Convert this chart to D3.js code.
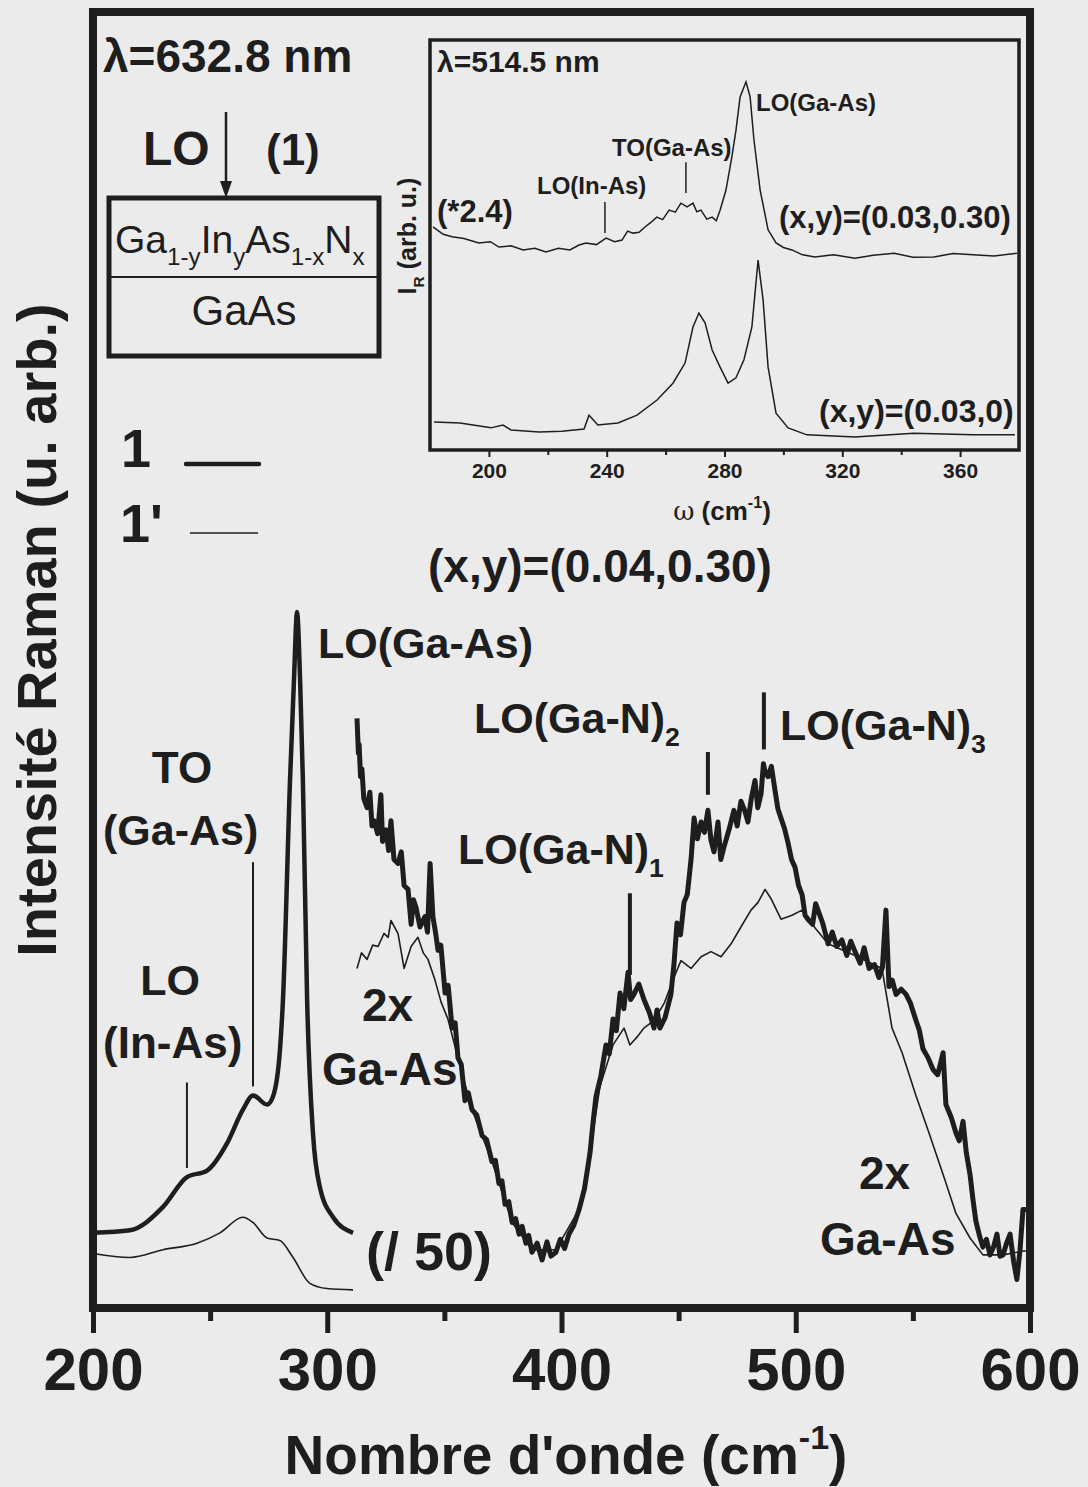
<!DOCTYPE html>
<html>
<head>
<meta charset="utf-8">
<script src="https://cdn.jsdelivr.net/npm/d3@7"></script>
<style>
  body { margin: 0; background: #ebebeb; }
  svg text { font-family: "Liberation Sans", Arial, sans-serif; font-weight: bold; fill: #1e1e1e; }
  svg text.plain { font-weight: normal; }
</style>
</head>
<body>
<div id="canvas"></div>
<script>
"use strict"

/* Main spectra, lambda = 632.8 nm : [wavenumber (cm-1), intensity (arb.)] */
// sample 1, divided by 50 (LO Ga-As region)
let thickLow = [
  [200, 5.8], [215.8, 6.0], [229.9, 7.8], [240.1, 10.1], [248.7, 10.6], [257.2, 12.7],
  [264.0, 15.3], [268.3, 16.4], [274.3, 15.7], [276.8, 16.3], [279.8, 19.9], [281.1, 23.8],
  [284.1, 40.7], [285.8, 48.5], [287.1, 53.7], [288.4, 48.5], [289.6, 40.7], [291.4, 23.8],
  [293.9, 13.5], [296.9, 9.3], [302.5, 7.0], [311.0, 5.8]
];
// sample 1', same range
let thinLow = [
  [200, 4.2], [215.8, 3.9], [229.9, 4.5], [244.4, 5.0], [254.2, 5.8], [264.0, 7.0],
  [268.3, 6.6], [274.3, 5.4], [279.8, 5.2], [285.4, 3.9], [292.6, 1.9], [299.9, 1.5], [311.0, 1.4]
];
// sample 1, 2x Ga-As region
let thickHigh = [
  [312.7, 45.5], [313.3, 42.8], [313.6, 43.5], [314.2, 41.0], [314.8, 41.6], [315.6, 39.3],
  [317.0, 38.6], [318.2, 39.8], [319.1, 37.2], [320.0, 37.6], [321.5, 36.6], [322.9, 39.6],
  [323.6, 36.0], [325.1, 36.9], [326.2, 35.3], [327.2, 37.6], [328.5, 34.6], [330.2, 34.3],
  [331.6, 35.2], [332.8, 32.6], [334.5, 32.3], [335.8, 29.6], [336.8, 31.5], [337.9, 30.9],
  [339.6, 29.4], [341.7, 30.2], [342.8, 29.0], [343.9, 34.3], [345.1, 30.2], [346.2, 29.0],
  [347.3, 27.6], [348.5, 28.0], [350.3, 24.3], [351.6, 24.9], [353.3, 21.6], [354.6, 22.0],
  [355.8, 19.3], [357.2, 18.8], [358.8, 16.0], [360.2, 16.6], [361.8, 15.3], [363.8, 14.9],
  [366.1, 13.3], [368.0, 13.0], [370.3, 11.3], [371.8, 11.4], [373.3, 9.6], [374.6, 9.8],
  [375.9, 8.0], [377.5, 8.2], [378.9, 6.6], [380.4, 6.9], [381.9, 5.7], [383.2, 6.3],
  [384.8, 5.0], [386.0, 5.6], [387.4, 4.3], [389.6, 5.0], [391.7, 3.7], [393.8, 5.1],
  [395.5, 4.0], [397.6, 4.3], [399.5, 5.3], [401.3, 4.6], [403.2, 5.7], [405.3, 6.4],
  [407.5, 7.6], [409.8, 9.2], [412.2, 12.0], [413.4, 14.2], [414.7, 16.3], [416.8, 17.9],
  [419.0, 20.3], [420.4, 19.6], [422.0, 22.3], [423.4, 21.4], [425.0, 24.3], [426.6, 23.1],
  [428.4, 25.9], [429.5, 23.8], [430.9, 24.2], [433.0, 25.0], [435.2, 23.8], [437.5, 22.8],
  [439.5, 21.6], [440.8, 23.0], [442.0, 21.6], [444.2, 22.4], [446.7, 24.2], [448.0, 26.5],
  [449.3, 29.7], [450.8, 28.8], [452.3, 31.3], [453.7, 31.9], [455.3, 34.6], [456.6, 37.8],
  [458.0, 36.2], [459.6, 37.5], [461.0, 36.7], [462.5, 38.4], [463.8, 36.1], [465.1, 35.2],
  [466.8, 37.5], [468.0, 34.6], [469.4, 35.6], [471.5, 36.9], [473.6, 38.4], [475.0, 37.2],
  [476.6, 39.1], [478.2, 38.4], [479.6, 37.5], [481.0, 39.3], [482.6, 40.7], [483.8, 38.6],
  [485.2, 39.7], [486.2, 42.0], [486.9, 41.4], [488.2, 41.0], [489.6, 41.8], [491.1, 40.0],
  [492.4, 38.5], [493.7, 37.8], [495.2, 37.0], [496.7, 35.9], [498.2, 34.6], [499.7, 34.0],
  [501.2, 32.6], [502.7, 31.9], [504.0, 30.3], [505.2, 30.0], [507.2, 29.6], [508.5, 31.2],
  [509.5, 30.7], [511.5, 29.7], [513.8, 28.1], [515.6, 29.0], [517.5, 27.9], [519.7, 28.4],
  [521.8, 27.2], [523.5, 28.3], [525.3, 27.5], [527.5, 26.6], [529.2, 27.8], [531.3, 26.2],
  [533.6, 26.5], [535.5, 25.5], [537.0, 26.3], [538.5, 30.7], [539.8, 24.8], [541.2, 25.3],
  [542.8, 24.2], [545.0, 24.6], [547.1, 24.2], [549.0, 23.5], [551.3, 22.2], [552.8, 21.4],
  [554.3, 20.0], [556.5, 19.3], [558.6, 18.4], [560.6, 18.0], [562.9, 19.7], [564.1, 15.7],
  [566.4, 14.7], [568.4, 13.5], [569.8, 12.9], [571.4, 14.4], [572.8, 12.0], [574.4, 10.3],
  [575.7, 8.3], [576.9, 6.7], [578.4, 5.6], [579.9, 4.7], [581.4, 5.3], [582.9, 4.1],
  [584.4, 4.7], [585.9, 5.7], [587.2, 4.0], [588.5, 4.1], [590.0, 5.0], [591.5, 5.7],
  [593.0, 3.6], [594.4, 2.2], [595.7, 4.4], [597.0, 7.6], [600, 7.6]
];
// sample 1', 2x Ga-As region
let thinHigh = [
  [312.7, 26.2], [314.6, 27.4], [317.0, 26.9], [319.4, 28.0], [321.7, 27.9], [324.2, 28.9],
  [326.0, 28.6], [327.2, 29.9], [330.2, 28.9], [332.8, 26.2], [335.8, 27.9], [338.7, 28.6],
  [341.0, 27.4], [343.0, 26.9], [346.0, 25.3], [348.6, 23.6], [351.5, 22.3], [355.8, 19.3],
  [361.8, 15.3], [370.3, 11.3], [378.9, 6.6], [387.4, 4.5], [397.6, 4.5], [407.5, 7.6],
  [412.2, 12.0], [416.4, 17.1], [422.0, 20.3], [426.7, 21.6], [429.2, 20.3], [432.2, 20.9],
  [435.2, 21.6], [439.5, 22.2], [443.8, 23.5], [448.0, 25.5], [451.0, 26.8], [455.3, 26.2],
  [459.6, 27.1], [463.8, 27.5], [468.1, 27.1], [472.4, 28.1], [476.6, 29.4], [480.9, 30.7],
  [483.9, 31.3], [486.9, 32.3], [489.4, 31.6], [493.7, 30.0], [498.4, 30.3], [502.7, 30.7],
  [505.2, 30.0], [513.8, 28.1], [525.3, 27.2], [536.8, 26.2], [541.1, 21.6], [545.4, 19.7],
  [551.3, 16.4], [556.9, 13.5], [562.9, 10.3], [568.4, 7.3], [574.4, 5.4], [579.9, 4.1],
  [588.5, 4.1], [597.0, 4.4], [600, 4.4]
];

/* Mode markers in main plot */
let mainMarks = [
  { name: "LO(In-As)", w: 240.1, v0: 10.8, v1: 17.4, thick: false },
  { name: "TO(Ga-As)", w: 268.3, v0: 17.1, v1: 34.4, thick: false },
  { name: "LO(Ga-N)1", w: 429.2, v0: 25.7, v1: 32.0, thick: true },
  { name: "LO(Ga-N)2", w: 462.5, v0: 39.6, v1: 42.9, thick: true },
  { name: "LO(Ga-N)3", w: 486.4, v0: 43.1, v1: 47.5, thick: true }
];

/* Inset, lambda = 514.5 nm */
let insetTop = [   // (x,y)=(0.03,0.30), *2.4
  [181, 54.4], [184.5, 52.6], [187.5, 52.0], [191.5, 51.6], [196.6, 50.5], [200.5, 50.8],
  [203.4, 49.5], [207.5, 49.8], [211.6, 48.8], [215.6, 49.2], [219.4, 48.3], [223.6, 49.2],
  [227.5, 48.8], [230.6, 50.0], [233.0, 50.5], [236.5, 50.1], [239.8, 51.7], [242.7, 50.8],
  [245.2, 51.2], [247.1, 53.4], [248.9, 52.9], [251.0, 53.1], [253.0, 54.4], [255.0, 55.5],
  [257.0, 56.8], [259.0, 56.2], [261.2, 58.5], [263.3, 58.0], [265.2, 60.2], [267.3, 59.3],
  [269.3, 60.2], [270.6, 58.1], [272.0, 58.5], [274.0, 56.3], [275.8, 56.8], [277.2, 55.9],
  [278.5, 58.5], [280.5, 63.4], [282.5, 71.5], [283.9, 78.0], [285.3, 86.1], [287.3, 89.8],
  [288.7, 86.1], [290.0, 75.6], [292.1, 63.4], [294.8, 53.7], [297.5, 50.5], [300.0, 49.4],
  [302.9, 48.8], [306.5, 47.6], [310.7, 47.1], [317.0, 47.6], [324.3, 46.8], [330.5, 47.5],
  [337.6, 48.0], [344.0, 47.0], [351.1, 47.1], [357.6, 47.9], [364.4, 47.6], [371.5, 47.3],
  [379.3, 48.0]
];
let insetBottom = [ // (x,y)=(0.03,0)
  [181.4, 6.8], [190.2, 6.6], [200.7, 5.4], [204.8, 6.1], [207.5, 4.9], [217.0, 4.4],
  [224.8, 4.6], [232.3, 5.1], [234.0, 8.5], [237.0, 6.1], [243.8, 6.6], [250.3, 8.5],
  [257.1, 12.2], [262.5, 16.3], [266.6, 21.2], [269.3, 30.0], [271.3, 33.4], [273.4, 31.0],
  [275.8, 24.4], [278.5, 20.2], [281.2, 16.3], [283.9, 17.6], [286.6, 22.0], [289.3, 30.0],
  [291.4, 46.3], [293.1, 36.6], [294.8, 20.2], [297.5, 9.0], [301.6, 5.4], [308.0, 3.7],
  [324.3, 3.2], [344.3, 4.1], [364.4, 3.7], [378.6, 3.7]
];
let insetMarks = [
  { name: "LO(In-As)", w: 239.4, v0: 52.9, v1: 60.5 },
  { name: "TO(Ga-As)", w: 266.9, v0: 62.7, v1: 70.2 }
];

/* Tick values */
let mainMajor = [200, 300, 400, 500, 600];
let mainMinor = [250, 350, 450, 550];
let insetMajor = [200, 240, 280, 320, 360];
let insetMinor = [220, 260, 300, 340];

/* Drawing */
let svgWidth = 1088;
let svgHeight = 1487;
let ink = "#1e1e1e";

let svg = d3.select("#canvas")
    .append("svg")
    .attr("width", svgWidth)
    .attr("height", svgHeight);

svg.append("rect")
    .attr("width", svgWidth)
    .attr("height", svgHeight)
    .attr("fill", "#ebebeb");

let x = d3.scaleLinear().domain([200, 600]).range([93, 1030]);
let y = d3.scaleLinear().domain([0, 100]).range([1308, 12]);

let xi = d3.scaleLinear().domain([180, 380]).range([430, 1019]);
let yi = d3.scaleLinear().domain([0, 100]).range([450, 40]);

function styleAxis(g, width, fontSize) {
  g.select(".domain").remove();
  g.selectAll(".tick line").attr("stroke", ink).attr("stroke-width", width);
  g.selectAll(".tick text")
      .attr("fill", ink)
      .style("font-size", fontSize + "px")
      .style("font-family", "'Liberation Sans', Arial, sans-serif")
      .style("font-weight", "bold");
}

/* main axis ticks (outward, bottom) */
svg.append("g")
    .attr("transform", "translate(0,1308)")
    .call(d3.axisBottom(x).tickValues(mainMajor).tickSize(25).tickPadding(14).tickFormat(d3.format("d")))
    .call(g => styleAxis(g, 5, 60));

svg.append("g")
    .attr("transform", "translate(0,1308)")
    .call(d3.axisBottom(x).tickValues(mainMinor).tickSize(13).tickFormat(""))
    .call(g => styleAxis(g, 5, 10));

/* main frame */
svg.append("rect")
    .attr("x", x(200))
    .attr("y", y(100))
    .attr("width", x(600) - x(200))
    .attr("height", y(0) - y(100))
    .attr("fill", "none")
    .attr("stroke", ink)
    .attr("stroke-width", 8);

/* main curves */
let line = d3.line().x(d => x(d[0])).y(d => y(d[1]));
let smooth = d3.line().x(d => x(d[0])).y(d => y(d[1])).curve(d3.curveMonotoneX);

svg.append("path").datum(thinLow).attr("d", smooth)
    .attr("fill", "none").attr("stroke", ink).attr("stroke-width", 1.6);
svg.append("path").datum(thickLow).attr("d", smooth)
    .attr("fill", "none").attr("stroke", ink).attr("stroke-width", 4.5);
svg.append("path").datum(thinHigh).attr("d", line)
    .attr("fill", "none").attr("stroke", ink).attr("stroke-width", 1.6)
    .attr("stroke-linejoin", "round");
svg.append("path").datum(thickHigh).attr("d", line)
    .attr("fill", "none").attr("stroke", ink).attr("stroke-width", 5)
    .attr("stroke-linejoin", "round");

svg.selectAll("line.mark")
    .data(mainMarks)
    .join("line")
    .attr("class", "mark")
    .attr("x1", d => x(d.w)).attr("x2", d => x(d.w))
    .attr("y1", d => y(d.v0)).attr("y2", d => y(d.v1))
    .attr("stroke", ink)
    .attr("stroke-width", d => d.thick ? 4 : 2);

/* text helper: parts = [[text, "sub"|"sup"|undefined], ...] */
function label(px, py, parts, size, anchor, cls) {
  let t = svg.append("text")
      .attr("x", px).attr("y", py)
      .attr("text-anchor", anchor || "start")
      .style("font-size", size + "px");
  if (cls) t.attr("class", cls);
  let shift = 0;
  parts.forEach(p => {
    let s = t.append("tspan").text(p[0]);
    let target = p[1] === "sub" ? size * 0.3 : p[1] === "sup" ? -size * 0.45 : 0;
    if (p[1]) s.style("font-size", (size * 0.62) + "px");
    s.attr("dy", target - shift);
    shift = target;
  });
  return t;
}

label(103, 72, [["λ=632.8 nm"]], 46);
label(143, 165, [["LO"]], 48);
label(266, 165, [["(1)"]], 44);

/* arrow into layer box */
svg.append("line")
    .attr("x1", 226).attr("x2", 226).attr("y1", 112).attr("y2", 184)
    .attr("stroke", ink).attr("stroke-width", 2.5);
svg.append("path")
    .attr("d", "M220,181 L232,181 L226,198 Z")
    .attr("fill", ink);

/* layer box */
svg.append("rect")
    .attr("x", 109).attr("y", 198).attr("width", 270).attr("height", 158)
    .attr("fill", "none").attr("stroke", ink).attr("stroke-width", 5);
svg.append("line")
    .attr("x1", 111).attr("x2", 377).attr("y1", 277).attr("y2", 277)
    .attr("stroke", ink).attr("stroke-width", 2);
label(115, 253, [["Ga"], ["1-y", "sub"], ["In"], ["y", "sub"], ["As"], ["1-x", "sub"], ["N"], ["x", "sub"]], 39, "start", "plain");
label(244, 325, [["GaAs"]], 42, "middle", "plain");

/* legend */
label(121, 467, [["1"]], 54);
svg.append("line")
    .attr("x1", 186).attr("x2", 259).attr("y1", 464).attr("y2", 464)
    .attr("stroke", ink).attr("stroke-width", 4.5).attr("stroke-linecap", "round");
label(120, 542, [["1'"]], 54);
svg.append("line")
    .attr("x1", 190).attr("x2", 258).attr("y1", 533).attr("y2", 533)
    .attr("stroke", ink).attr("stroke-width", 1.6);

/* main annotations */
label(428, 582, [["(x,y)=(0.04,0.30)"]], 46);
label(318, 658, [["LO(Ga-As)"]], 43);
label(182, 783, [["TO"]], 44, "middle");
label(103, 845, [["(Ga-As)"]], 43);
label(170, 995, [["LO"]], 43, "middle");
label(103, 1058, [["(In-As)"]], 44);
label(474, 733, [["LO(Ga-N)"], ["2", "sub"]], 43);
label(780, 740, [["LO(Ga-N)"], ["3", "sub"]], 43);
label(458, 864, [["LO(Ga-N)"], ["1", "sub"]], 43);
label(362, 1021, [["2x"]], 46);
label(322, 1085, [["Ga-As"]], 46);
label(366, 1270, [["(/ 50)"]], 54);
label(859, 1189, [["2x"]], 46);
label(820, 1255, [["Ga-As"]], 46);

/* axis titles */
label(566, 1474, [["Nombre d'onde (cm"], ["-1", "sup"], [")"]], 55, "middle");
label(0, 0, [["Intensité Raman (u. arb.)"]], 56, "middle")
    .attr("transform", "translate(56,630) rotate(-90)");

/* ---------- inset ---------- */
svg.append("g")
    .attr("transform", "translate(0,450)")
    .call(d3.axisBottom(xi).tickValues(insetMajor).tickSize(7).tickPadding(6).tickFormat(d3.format("d")))
    .call(g => styleAxis(g, 2, 21));
svg.append("g")
    .attr("transform", "translate(0,450)")
    .call(d3.axisBottom(xi).tickValues(insetMinor).tickSize(5).tickFormat(""))
    .call(g => styleAxis(g, 2, 10));

svg.append("rect")
    .attr("x", xi(180)).attr("y", yi(100))
    .attr("width", xi(380) - xi(180)).attr("height", yi(0) - yi(100))
    .attr("fill", "none").attr("stroke", ink).attr("stroke-width", 3.5);

let lineI = d3.line().x(d => xi(d[0])).y(d => yi(d[1]));
svg.append("path").datum(insetTop).attr("d", lineI)
    .attr("fill", "none").attr("stroke", ink).attr("stroke-width", 1.5);
svg.append("path").datum(insetBottom).attr("d", lineI)
    .attr("fill", "none").attr("stroke", ink).attr("stroke-width", 1.5);

svg.selectAll("line.imark")
    .data(insetMarks)
    .join("line")
    .attr("class", "imark")
    .attr("x1", d => xi(d.w)).attr("x2", d => xi(d.w))
    .attr("y1", d => yi(d.v0)).attr("y2", d => yi(d.v1))
    .attr("stroke", ink).attr("stroke-width", 1.5);

label(437, 72, [["λ=514.5 nm"]], 30);
label(756, 111, [["LO(Ga-As)"]], 24);
label(612, 156, [["TO(Ga-As)"]], 24);
label(537, 194, [["LO(In-As)"]], 24);
label(437, 222, [["(*2.4)"]], 31);
label(779, 228, [["(x,y)=(0.03,0.30)"]], 31);
label(819, 422, [["(x,y)=(0.03,0)"]], 32);

let wt = label(722, 520, [["ω"], [" (cm"], ["-1", "sup"], [")"]], 26, "middle");
wt.select("tspan").style("font-family", "'DejaVu Serif', serif").style("font-weight", "normal");

label(0, 0, [["I"], ["R", "sub"], [" (arb. u.)"]], 25, "middle")
    .attr("transform", "translate(416,236) rotate(-90)");
</script>
</body>
</html>
